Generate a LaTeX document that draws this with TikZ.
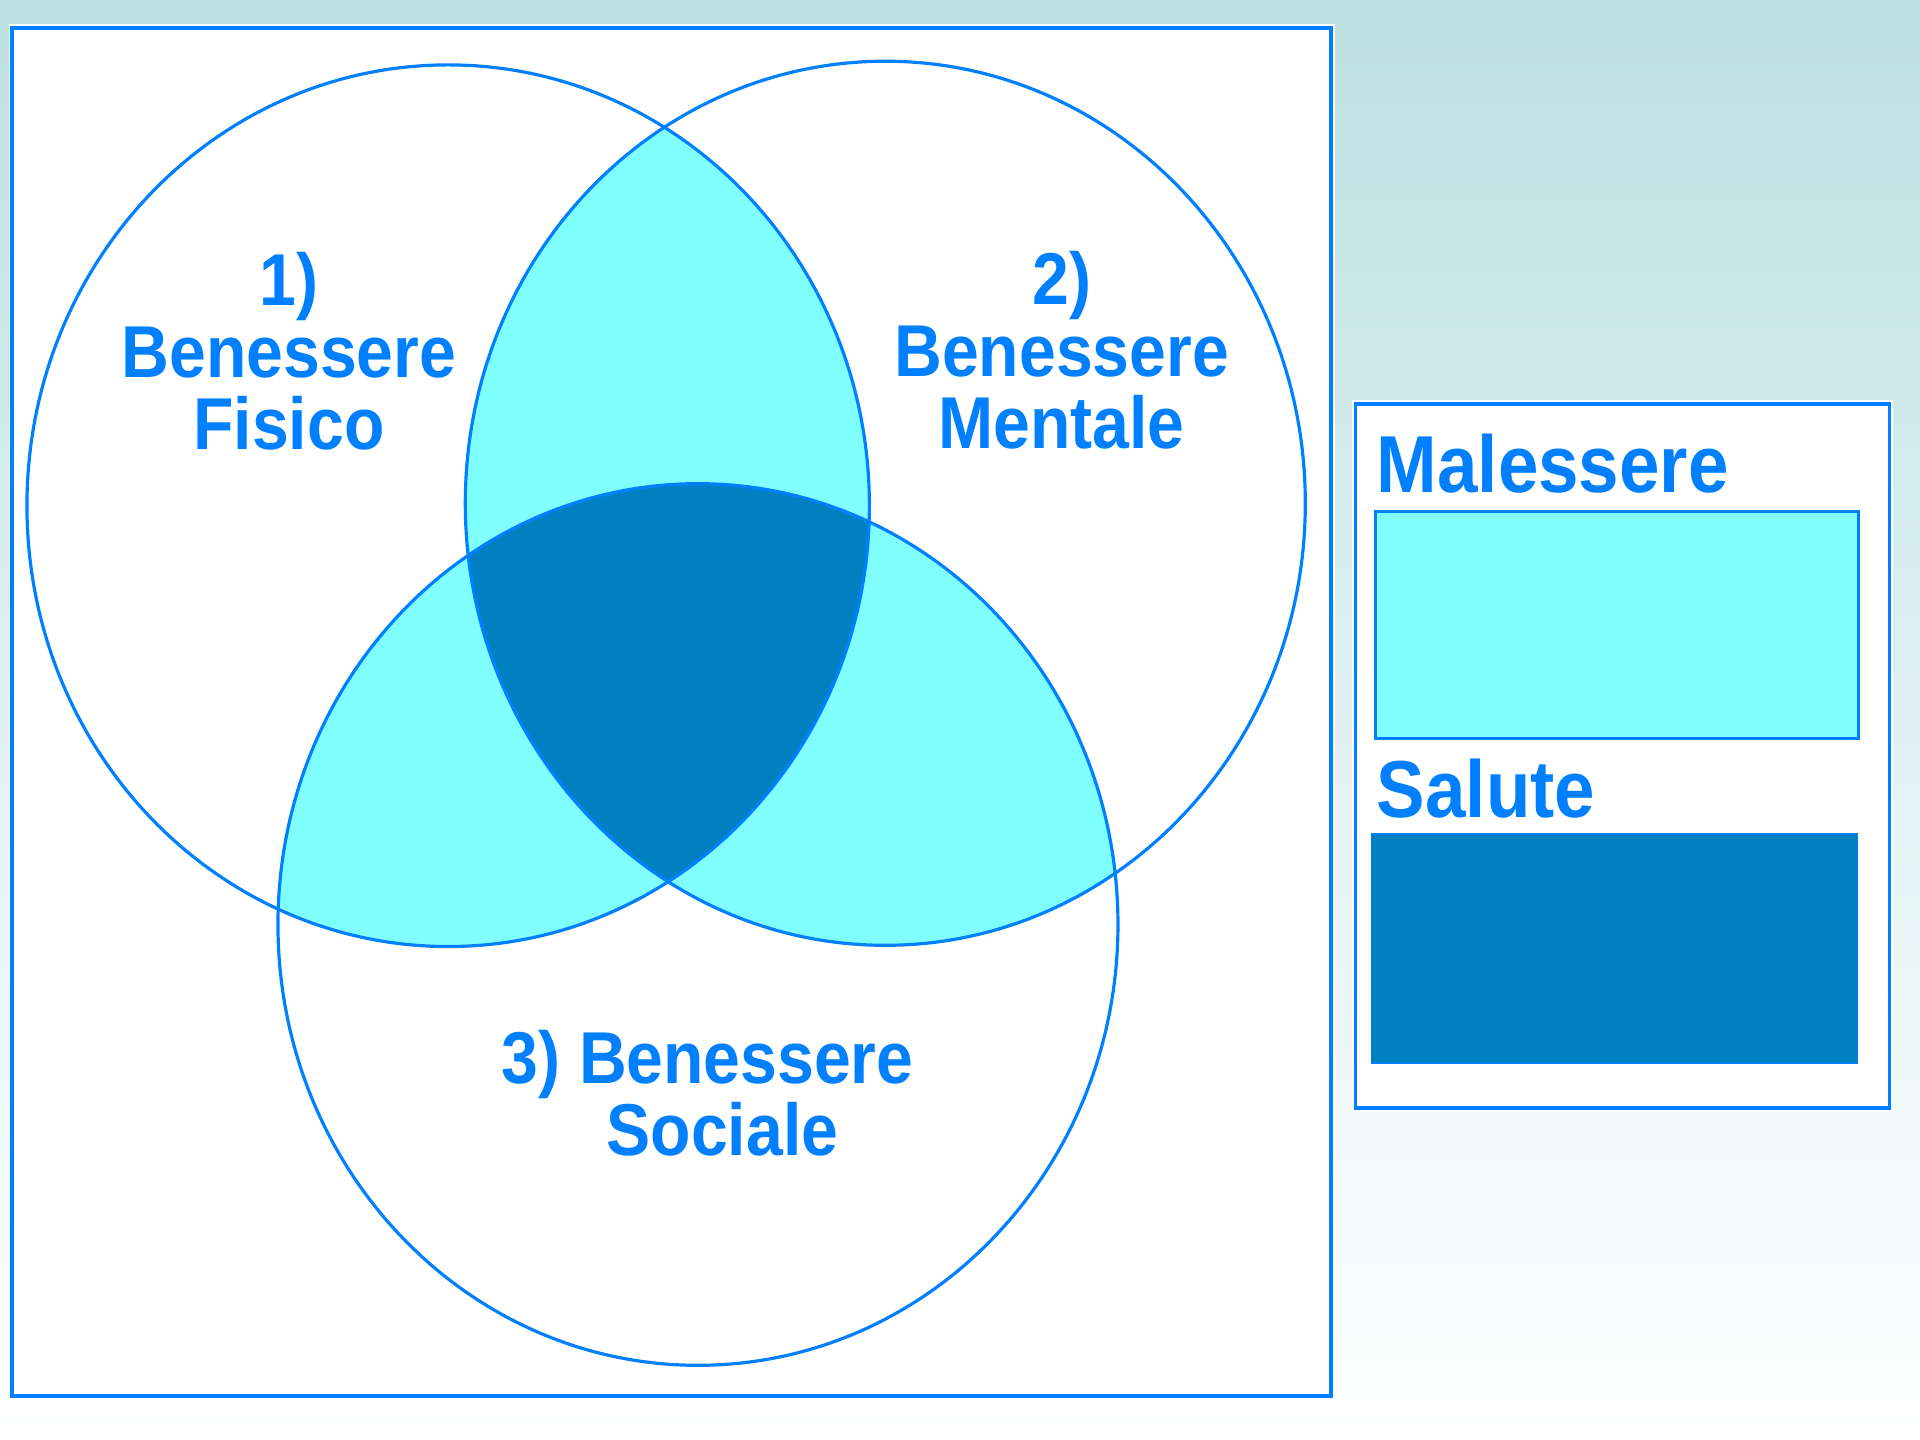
\documentclass[tikz,border=0pt]{standalone}
\usepackage{fontspec}
\setmainfont{Liberation Sans}
\usetikzlibrary{calc}
\definecolor{bgteal}{RGB}{186,224,226}
\definecolor{lineblue}{RGB}{0,128,255}
\definecolor{lightcyan}{RGB}{128,255,255}
\definecolor{darkblue}{RGB}{0,128,192}
\tikzset{
  ring/.style={draw=lineblue, line width=1.3pt},
  label/.style={text=lineblue, font=\fontsize{30}{29.5}\selectfont\bfseries, align=center, inner sep=0pt},
  legendtext/.style={text=lineblue, font=\fontsize{33}{33}\selectfont\bfseries, inner sep=0pt, anchor=base west},
}
\newcommand{\sq}[1]{\scalebox{0.9}[1]{#1}}
\begin{document}
\begin{tikzpicture}[x=0.5pt,y=-0.5pt]
% page and background
\shade[top color=bgteal, bottom color=white, middle color=bgteal!45] (0,0) rectangle (1568,1176);
\useasboundingbox (0,0) rectangle (1568,1176);
% main frame
\fill[white] (7,20) rectangle (1090,1143);
\draw[lineblue, line width=1.5pt] (10,23) rectangle (1087,1140);
% circle centres
\coordinate (c1) at (366,413);
\coordinate (c2) at (723,411);
\coordinate (c3) at (570,755);
% pairwise intersections
\begin{scope}
  \clip (c1) ellipse [x radius=344, y radius=360];
  \fill[lightcyan] (c2) ellipse [x radius=343, y radius=361];
  \fill[lightcyan] (c3) ellipse [x radius=343, y radius=360];
\end{scope}
\begin{scope}
  \clip (c2) ellipse [x radius=343, y radius=361];
  \fill[lightcyan] (c3) ellipse [x radius=343, y radius=360];
\end{scope}
% triple intersection
\begin{scope}
  \clip (c1) ellipse [x radius=344, y radius=360];
  \clip (c2) ellipse [x radius=343, y radius=361];
  \fill[darkblue] (c3) ellipse [x radius=343, y radius=360];
\end{scope}
% outlines
\draw[ring] (c1) ellipse [x radius=344, y radius=360];
\draw[ring] (c2) ellipse [x radius=343, y radius=361];
\draw[ring] (c3) ellipse [x radius=343, y radius=360];
% labels
\node[label] (t1) at (236,287) {\sq{1)}\\\sq{Benessere}\\\sq{Fisico}};
\node[label] (t2) at (867,286) {\sq{2)}\\\sq{Benessere}\\\sq{Mentale}};
\node[label] (t3) at (578,893) {\sq{3) Benessere}\\\hspace*{12pt}\sq{Sociale}};
% legend
\fill[white] (1104,327) rectangle (1546,908);
\draw[lineblue, line width=1.5pt] (1107,330) rectangle (1543,905);
\node[legendtext] (lm) at (1124,402) {\sq{Malessere}};
\draw[lineblue, line width=1.2pt, fill=lightcyan] (1123,418) rectangle (1518,603);
\node[legendtext] (ls) at (1124,668) {\sq{Salute}};
\draw[lineblue, line width=0.6pt, fill=darkblue] (1120,681) rectangle (1517,868);
\end{tikzpicture}
\end{document}
